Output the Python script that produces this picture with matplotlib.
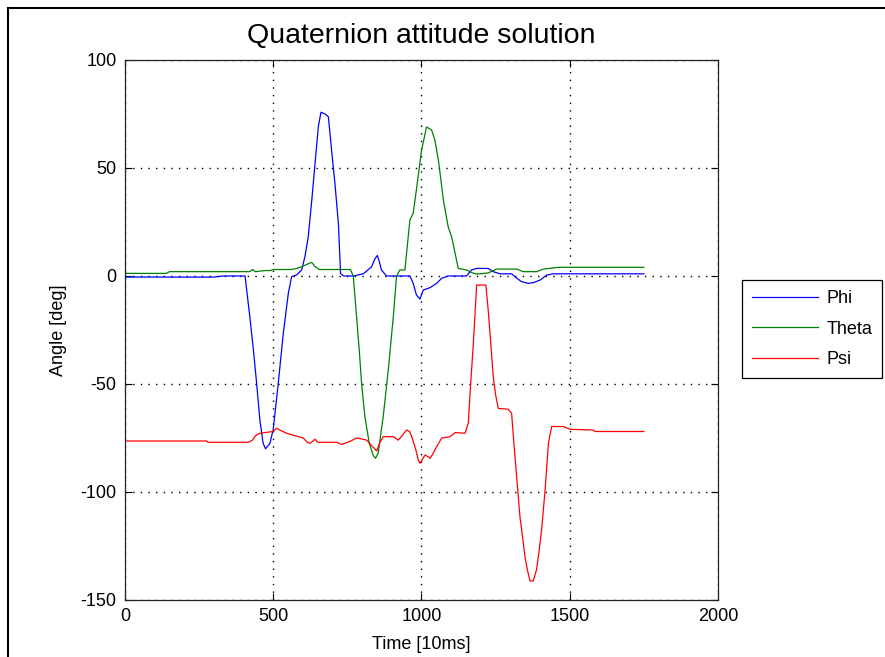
import matplotlib
matplotlib.use('Agg')
import matplotlib.pyplot as plt
from matplotlib.lines import Line2D

plt.rcParams['font.family'] = ['Liberation Sans', 'DejaVu Sans']
plt.rcParams['axes.unicode_minus'] = False

# Phi (roll) - time [10ms], angle [deg]
phi_t = [0, 300, 330, 405, 421, 433, 444, 455, 466, 474, 489, 500, 517, 534, 551,
         562, 579, 596, 607, 618, 630, 641, 652, 661, 675, 686, 697, 708, 720, 727,
         737, 770, 804, 832, 843, 851, 858, 865, 882, 961, 972, 983, 995, 1006, 1029,
         1051, 1068, 1090, 1152, 1169, 1186, 1225, 1242, 1265, 1304, 1321, 1337, 1360,
         1377, 1400, 1422, 1444, 1750]
phi_v = [-0.5, -0.5, 0, 0, -18.8, -34, -49.7, -66.7, -77.5, -80, -77.5, -71, -49.7, -26.5, -8,
         -0.3, 0.5, 2.8, 9, 18, 35, 52, 69, 75.8, 75, 73.7, 58, 43, 24, 1.2,
         0, 0, 1, 4.3, 8, 9.5, 6.6, 2.8, 0, 0, -3.4, -8.8, -10.7, -6.5, -5.4,
         -3.4, -1.1, 0, 0, 2.8, 3.5, 3.5, 2, 1, 1, -1, -2.6, -3.4,
         -3.1, -1.9, 0.4, 1, 1]

# Theta (pitch)
theta_t = [0, 140, 150, 420, 430, 440, 470, 490, 500, 560, 580, 600, 620, 630, 640,
           655, 760, 770, 781, 790, 798, 809, 824, 837, 845, 854, 871, 888, 905, 916,
           927, 944, 952, 961, 972, 983, 1000, 1017, 1034, 1045, 1057, 1074, 1090, 1102,
           1124, 1152, 1170, 1186, 1225, 1253, 1321, 1343, 1388, 1411, 1461, 1750]
theta_v = [1.2, 1.2, 2, 2, 3, 2, 2.5, 2.5, 3, 3, 3.5, 4.5, 5.8, 6.3, 4.5,
           3, 3, 0, -18.8, -34, -49.7, -65, -77.5, -83, -84.4, -82, -65, -43.5, -18.8, 0,
           2.8, 2.8, 13.6, 26, 29, 40, 58, 69, 67.6, 63, 53.7, 35, 22.8, 18,
           3.5, 2.8, 1.5, 0.9, 1.4, 3.2, 3.2, 2, 2, 3.2, 4, 4]

# Psi (yaw)
psi_t = [0, 275, 280, 416, 430, 440, 455, 500, 511, 525, 545, 575, 601, 615, 624,
         641, 650, 714, 731, 760, 781, 800, 815, 835, 849, 860, 871, 905, 922, 940,
         950, 960, 967, 980, 989, 995, 1012, 1020, 1029, 1040, 1051, 1060, 1068, 1080,
         1096, 1105, 1113, 1147, 1158, 1164, 1175, 1186, 1217, 1225, 1233, 1242, 1250,
         1259, 1293, 1304, 1312, 1321, 1332, 1341, 1349, 1357, 1366, 1377, 1388, 1396,
         1405, 1417, 1428, 1439, 1478, 1501, 1580, 1585, 1750]
psi_v = [-76.4, -76.4, -77, -77, -76, -74, -72.8, -72, -70.5, -71.5, -72.8, -74, -75, -77, -77.5,
         -75.6, -77, -77, -78, -76.5, -75, -75.5, -76, -79, -81, -77, -74.4, -74.4, -76, -73,
         -71.3, -72, -74.4, -80, -85, -86.7, -82.9, -83.5, -84.4, -82, -79, -77, -75, -74.8,
         -74.4, -73.5, -72.5, -72.8, -68, -54, -31, -4.2, -4.2, -15.7, -30, -46.6, -55,
         -61.3, -61.7, -63.6, -78, -93, -111.4, -121, -130, -136, -141.2, -141.2, -136, -128,
         -117.6, -99, -77.5, -69.7, -69.7, -71, -71.3, -72, -72]

x_ticks = [0, 500, 1000, 1500, 2000]
y_ticks = [-150, -100, -50, 0, 50, 100]

fig = plt.figure(figsize=(8.85, 6.57), dpi=100)
ax = fig.add_axes([0.1412, 0.0868, 0.6701, 0.8219])

ax.plot(phi_t, phi_v, color='#0000ff', lw=0.9, label='Phi')
ax.plot(theta_t, theta_v, color='#008000', lw=0.9, label='Theta')
ax.plot(psi_t, psi_v, color='#ff0000', lw=0.9, label='Psi')

ax.set_xlim(0, 2000)
ax.set_ylim(-150, 100)
ax.set_xticks(x_ticks)
ax.set_yticks(y_ticks)
ax.grid(True, color='black', linestyle=(0, (1, 4.5)), linewidth=1.0)
ax.tick_params(direction='in', top=True, right=True, length=5, labelsize=13,
               width=0.8, pad=6)
for s in ax.spines.values():
    s.set_linewidth(0.9)
    s.set_color('#222222')

ax.set_title('Quaternion attitude solution', fontsize=20.5, pad=12)
ax.set_xlabel('Time [10ms]', fontsize=13, labelpad=8)
ax.set_ylabel('Angle [deg]', fontsize=13, labelpad=10)

leg = ax.legend(loc='upper left', bbox_to_anchor=(1.04, 0.592), borderaxespad=0,
                fancybox=False, edgecolor='black', framealpha=1, fontsize=13,
                handlelength=3.7, handletextpad=0.45, labelspacing=0.75,
                borderpad=0.55)
leg.get_frame().set_linewidth(0.9)

# outer frame of the screenshot
fig.add_artist(Line2D([8 / 885, 8 / 885], [0, 1 - 8 / 657], transform=fig.transFigure,
                      color='black', lw=1.5))
fig.add_artist(Line2D([8 / 885, 1], [1 - 8 / 657, 1 - 8 / 657], transform=fig.transFigure,
                      color='black', lw=1.5))

fig.savefig('out.png', dpi=100)
